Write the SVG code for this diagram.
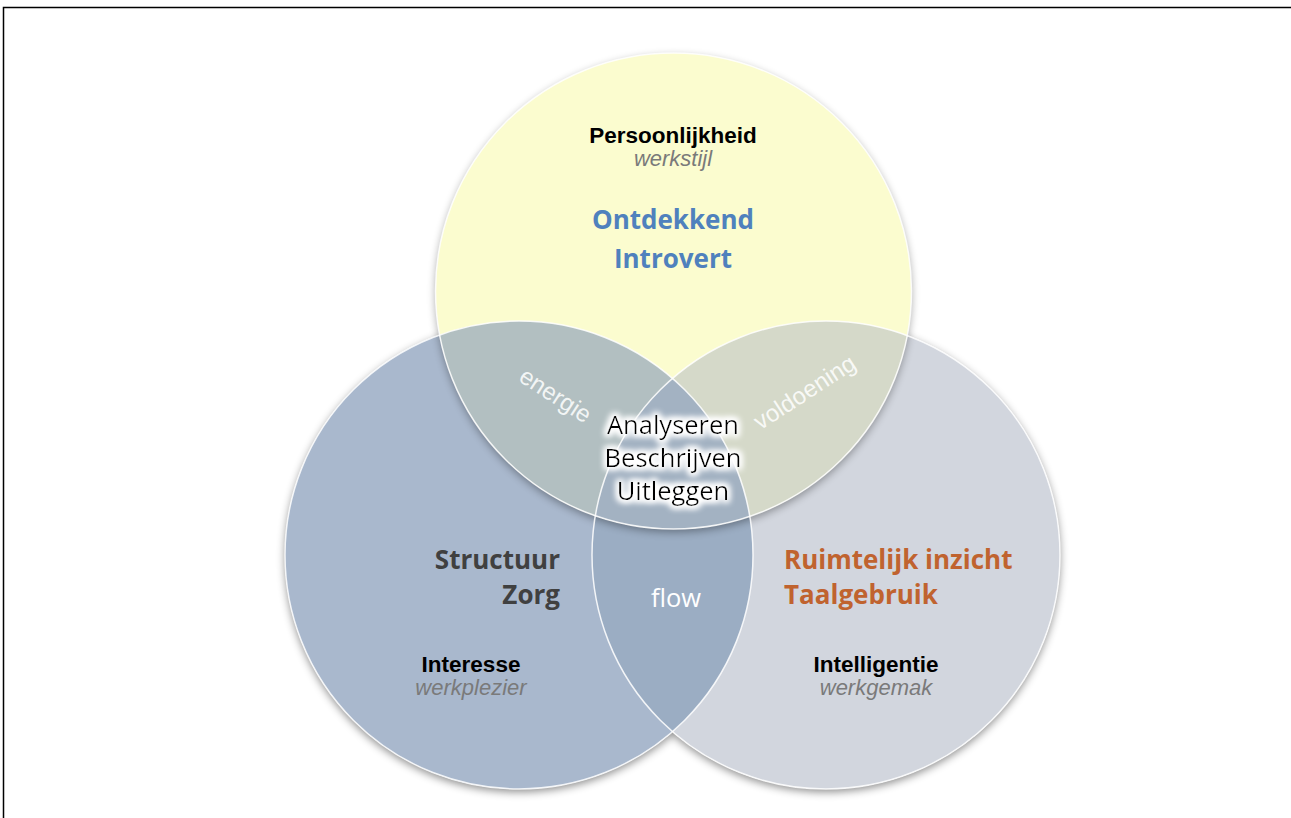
<svg xmlns="http://www.w3.org/2000/svg" width="1291" height="818" viewBox="0 0 1291 818">
<style>
.lbl{font-family:"Liberation Sans",Arial,sans-serif;font-weight:bold;font-size:22.5px;fill:#000;text-anchor:middle}
.sub{font-family:"Liberation Sans",Arial,sans-serif;font-style:italic;font-size:22px;fill:#7a7a7a;text-anchor:middle}
.big{font-family:"Open Sans","Noto Sans",sans-serif;font-weight:bold;font-size:26px}
.mid{font-family:"Open Sans","Noto Sans",sans-serif;font-size:25.5px}
.ov{font-family:"Liberation Sans",Arial,sans-serif;font-size:24px;fill:#ffffff;fill-opacity:0.85;text-anchor:middle}
.edge{fill:none;stroke:#ffffff;stroke-width:1.5;stroke-opacity:0.85}
</style>
<defs>
<filter id="shadow" x="-10%" y="-10%" width="120%" height="120%">
<feDropShadow dx="0" dy="3" stdDeviation="4" flood-color="#000" flood-opacity="0.45"/>
</filter>
<filter id="blur" x="-10%" y="-10%" width="120%" height="120%">
<feGaussianBlur stdDeviation="4"/>
</filter>
<filter id="glow" x="-20%" y="-30%" width="140%" height="160%">
<feMorphology in="SourceAlpha" operator="dilate" radius="2" result="d"/>
<feGaussianBlur in="d" stdDeviation="3" result="b"/>
<feFlood flood-color="#ffffff"/>
<feComposite in2="b" operator="in" result="w"/>
<feMerge><feMergeNode in="w"/><feMergeNode in="w"/><feMergeNode in="SourceGraphic"/></feMerge>
</filter>
<clipPath id="cTop"><circle cx="673.5" cy="291" r="238"/></clipPath>
<clipPath id="cLeft"><circle cx="519" cy="555" r="234"/></clipPath>
</defs>
<rect x="3.5" y="7.5" width="1300" height="830" fill="#ffffff" stroke="#000" stroke-width="1.5"/>

<g id="lower-shadows" filter="url(#shadow)">
<circle cx="519" cy="555" r="234" fill="#aab9ce"/>
<circle cx="826" cy="555" r="234" fill="#d2d6de"/>
</g>

<g id="node-interest">
<circle cx="519" cy="555" r="234" fill="#a9b8cd"/>
</g>
<g id="node-intelligence">
<circle cx="826" cy="555" r="234" fill="#d2d6de"/>
</g>
<g id="flow-overlap" clip-path="url(#cLeft)">
<circle cx="826" cy="555" r="234" fill="#9badc3"/>
</g>

<circle id="top-shadow" cx="673.5" cy="294" r="238" fill="#000" opacity="0.35" filter="url(#blur)"/>

<g id="node-personality">
<circle cx="673.5" cy="291" r="238" fill="#fbfccf"/>
</g>

<g id="top-overlaps" clip-path="url(#cTop)">
<circle cx="519" cy="555" r="234" fill="#b2bfc1"/>
<circle cx="826" cy="555" r="234" fill="#d5d9c9"/>
<g clip-path="url(#cLeft)"><circle cx="826" cy="555" r="234" fill="#a3b2c2"/></g>
</g>

<g id="edges">
<circle class="edge" cx="673.5" cy="291" r="238"/>
<circle class="edge" cx="519" cy="555" r="234"/>
<circle class="edge" cx="826" cy="555" r="234"/>
</g>

<g id="node-personality-text">
<text class="lbl" x="673" y="143">Persoonlijkheid</text>
<text class="sub" x="673" y="166">werkstijl</text>
<text class="big" x="673" y="229" fill="#4f81bd" text-anchor="middle">Ontdekkend</text>
<text class="big" x="673" y="268" fill="#4f81bd" text-anchor="middle">Introvert</text>
</g>

<g id="node-interest-text">
<text class="big" x="560" y="569" fill="#404040" text-anchor="end">Structuur</text>
<text class="big" x="560" y="604" fill="#404040" text-anchor="end">Zorg</text>
<text class="lbl" x="471" y="672">Interesse</text>
<text class="sub" x="471" y="695">werkplezier</text>
</g>
<g id="node-intelligence-text">
<text class="big" x="784" y="569" fill="#c0632f" text-anchor="start">Ruimtelijk inzicht</text>
<text class="big" x="784" y="604" fill="#c0632f" text-anchor="start">Taalgebruik</text>
<text class="lbl" x="876" y="672">Intelligentie</text>
<text class="sub" x="876" y="695">werkgemak</text>
</g>

<g id="overlap-labels">
<text class="ov" transform="translate(551,402) rotate(33)">energie</text>
<text class="ov" transform="translate(809,399) rotate(-33)">voldoening</text>
<text class="mid" x="676" y="607" fill="#ffffff" text-anchor="middle" font-size="22">flow</text>
</g>

<g id="node-center" filter="url(#glow)">
<text class="mid" x="673" y="434" fill="#000" text-anchor="middle">Analyseren</text>
<text class="mid" x="673" y="467" fill="#000" text-anchor="middle">Beschrijven</text>
<text class="mid" x="673" y="500" fill="#000" text-anchor="middle">Uitleggen</text>
</g>
</svg>
